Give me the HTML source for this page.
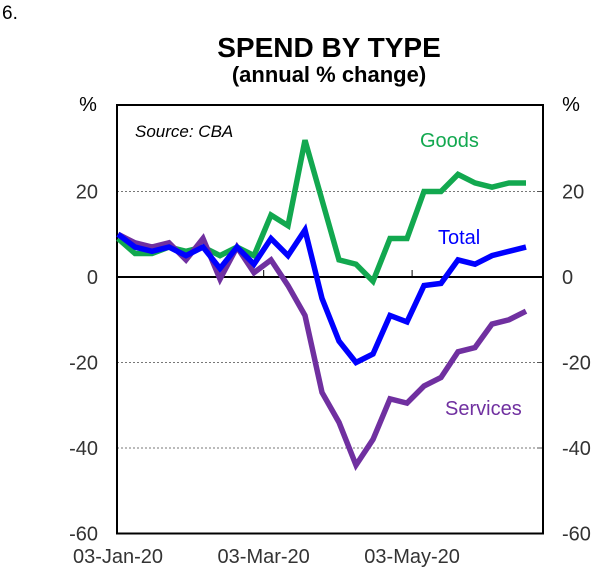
<!DOCTYPE html>
<html><head><meta charset="utf-8"><style>
body{margin:0;background:#fff;width:609px;height:579px;overflow:hidden}
svg text{font-family:"Liberation Sans",Arial,sans-serif}
</style></head><body>
<svg width="609" height="579">
<text x="2" y="19" font-size="19">6.</text>
<text x="329" y="57" font-size="28" font-weight="bold" text-anchor="middle">SPEND BY TYPE</text>
<text x="329" y="82" font-size="22" font-weight="bold" text-anchor="middle">(annual % change)</text>
<text x="88" y="111" font-size="20" text-anchor="middle">%</text>
<text x="571" y="111" font-size="20" text-anchor="middle">%</text>
<g id="grid"></g>
<g id="axes"></g>
<g id="lines"></g>
<text x="135" y="137" font-size="17" font-style="italic">Source: CBA</text>
<text x="420" y="147" font-size="20" fill="#12a84f">Goods</text>
<text x="438" y="244" font-size="20" fill="#0000ff">Total</text>
<text x="445" y="415" font-size="20" fill="#7030a0">Services</text>
</svg>
<script>
const yTicks=[20,0,-20,-40,-60];
const xLabels=["03-Jan-20","03-Mar-20","03-May-20"];
const xLabelWeeks=[0,8.57,17.3];
const goods=[9,5.5,5.5,7,6,7,5,7,5,14.5,12,32,18,4,3,-1,9,9,20,20,24,22,21,22,22];
const total=[10,7,6,7,5,7,2,7,3,9,5,11,-5,-15,-20,-18,-9,-10.5,-2,-1.5,4,3,5,6,7];
const services=[10,8,7,8,4,9,-0.5,7,1,4,-2,-9,-27,-34,-44,-38,-28.5,-29.5,-25.5,-23.5,-17.5,-16.5,-11,-10,-8];
const NS="http://www.w3.org/2000/svg";
const X0=117,X1=543,wk=17.0;
const x=i=>X0+1+i*wk;
const y=v=>277-v*4.275;
function mk(tag,attrs,parent,txt){const e=document.createElementNS(NS,tag);for(const k in attrs)e.setAttribute(k,attrs[k]);if(txt!==undefined)e.textContent=txt;document.getElementById(parent).appendChild(e);return e;}
yTicks.forEach(v=>{
 if(v!==0&&v!==-60){const g=mk('line',{x1:X0,x2:X1,y1:y(v),y2:y(v),stroke:'#777','stroke-dasharray':'2,2','stroke-width':1},'grid');
 
 
 const t=mk('line',{x1:X1-6,x2:X1,y1:y(v),y2:y(v),stroke:'#555','stroke-width':1},'grid');
 
 }
 const l=mk('text',{x:98,y:y(v)+7,'font-size':20,'text-anchor':'end',fill:'#333'},'axes',v);
 
 
 const r=mk('text',{x:562,y:y(v)+7,'font-size':20,fill:'#333'},'axes',v);
 
 
});
const frame=mk('rect',{x:X0,y:105,width:X1-X0,height:y(-60)-105,fill:'none',stroke:'#000','stroke-width':2},'axes');


const z=mk('line',{x1:X0,x2:X1,y1:y(0),y2:y(0),stroke:'#000','stroke-width':2},'axes');


xLabels.forEach((t,i)=>{
 const xx=x(xLabelWeeks[i]);
 if(i>0){const tk=mk('line',{x1:xx,x2:xx,y1:y(0),y2:y(0)-7,stroke:'#000','stroke-width':1},'axes');
 
 }
 const l=mk('text',{x:xx,y:563,'font-size':20,'text-anchor':'middle',fill:'#333'},'axes',t);
 
 
});
[[goods,'#12a84f','goods-line'],[services,'#7030a0','services-line'],[total,'#0000ff','total-line']].forEach(([d,c,n])=>{
 const p=mk('polyline',{points:d.map((v,i)=>x(i)+','+y(v)).join(' '),fill:'none',stroke:c,'stroke-width':5.5,'stroke-linejoin':'miter'},'lines');
 
 
});
</script>
</body></html>
